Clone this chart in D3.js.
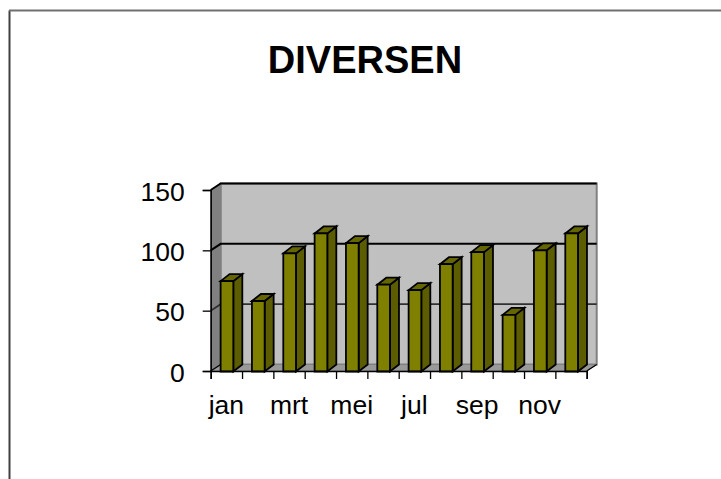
<!DOCTYPE html>
<html>
<head>
<title>DIVERSEN</title>
<meta charset="utf-8">
<style type="text/css">
html, body { margin: 0; padding: 0; background: #fff; overflow: hidden; }
text { font-family: "Liberation Sans", Arial, sans-serif; fill: #000; }
</style>
<script src="https://cdn.jsdelivr.net/npm/d3@7"></script>
</head>
<body>
<script type="text/javascript">
var months = ["jan","feb","mrt","apr","mei","jun","jul","aug","sep","okt","nov","dec"];
var values = [74.5,58,97.5,114,106,71.5,67,88.5,98.5,46.5,100,114];
var yTicks = [0,50,100,150];
var xLabels = ["jan","mrt","mei","jul","sep","nov"];

var width = 721, height = 479;
var x0 = 210.7, x1 = 586.7, y0 = 371, y1 = 190;
var depthX = 10, depthY = 6.5;		// 墙面的透视偏移
var barDX = 9, barDY = 7;

var svg = d3.select("body").append("svg")
	.attr("width", width)
	.attr("height", height);

var x = d3.scaleBand().domain(months).range([x0 + 0.6, x1 + 0.6]).paddingInner(0.595).paddingOuter(0.2975);
var xIndex = d3.scaleLinear().domain([0, 12]).range([x0, x1]);
var xCenter = d3.scaleBand().domain(months).range([x0, x1]);
var y = d3.scaleLinear().domain([0, 150]).range([y0, y1]);

function poly(pts, fill, stroke, sw) {
	return svg.append("polygon")
		.attr("points", pts.map(function(p){ return p.join(","); }).join(" "))
		.attr("fill", fill)
		.attr("stroke", stroke || "none")
		.attr("stroke-width", sw || 0)
		.attr("stroke-linejoin", "miter");
}

// 外框
svg.append("path").attr("d", "M9.5,479V10.5").attr("stroke", "#404040").attr("stroke-width", 2).attr("fill", "none");
svg.append("path").attr("d", "M9,10.5H721").attr("stroke", "#707070").attr("stroke-width", 2).attr("fill", "none");

// 标题
svg.append("text").attr("x", 365).attr("y", 72.5)
	.attr("text-anchor", "middle").attr("font-size", 38).attr("font-weight", "bold")
	.text("DIVERSEN");

// 墙面和地面
poly([[x0+depthX,y1-depthY],[x1+depthX,y1-depthY],[x1+depthX,y0-depthY],[x0+depthX,y0-depthY]], "#c0c0c0", "#808080", 2);
poly([[x0,y1],[x0+depthX,y1-depthY],[x0+depthX,y0-depthY],[x0,y0]], "#808080", "#808080", 1);
poly([[x0,y0],[x0+depthX,y0-depthY],[x1+depthX,y0-depthY],[x1,y0]], "#999999", "#808080", 1);

// 网格线
yTicks.slice(1).forEach(function(t) {
	svg.append("path")
		.attr("d", "M" + x0 + "," + y(t) + "L" + (x0+depthX) + "," + (y(t)-depthY) + "H" + (x1+depthX))
		.attr("fill", "none").attr("stroke", t == 50 ? "#303030" : "#000").attr("stroke-width", t == 50 ? 1.7 : 2);
});
svg.append("path")
	.attr("d", "M" + x0 + "," + y0 + "L" + (x0+depthX) + "," + (y0-depthY))
	.attr("fill", "none").attr("stroke", "#000").attr("stroke-width", 1.3);
svg.append("path")
	.attr("d", "M" + x1 + "," + y0 + "L" + (x1+depthX) + "," + (y0-depthY))
	.attr("fill", "none").attr("stroke", "#000").attr("stroke-width", 1.3);

// 柱子
months.forEach(function(m, i) {
	var l = x(m), r = l + x.bandwidth(), t = y(values[i]), b = y0 + 0.5;
	var sw = 1.8;
	poly([[r,t],[r+barDX,t-barDY],[r+barDX,b-barDY],[r,b]], "#5c5c00", "#000", sw);
	poly([[l,t],[l+barDX,t-barDY],[r+barDX,t-barDY],[r,t]], "#666600", "#000", sw);
	poly([[l,t],[r,t],[r,b],[l,b]], "#808000", "#000", sw);
});

// 坐标轴
var yAxis = svg.append("g").attr("transform", "translate(" + x0 + ",0)")
	.call(d3.axisLeft(y).tickValues(yTicks).tickSize(8).tickPadding(18));
yAxis.selectAll("text").attr("font-size", 26.5).attr("dy", "0.38em");
var xTickAxis = svg.append("g").attr("transform", "translate(0," + y0 + ")")
	.call(d3.axisBottom(xIndex).tickValues(d3.range(0, 13)).tickSize(8).tickFormat(""));
var xAxis = svg.append("g").attr("transform", "translate(0," + y0 + ")")
	.call(d3.axisBottom(xCenter).tickValues(xLabels).tickSize(0).tickPadding(24));
xAxis.selectAll("text").attr("font-size", 26.5);
svg.selectAll(".domain").attr("stroke", "#000").attr("stroke-width", 1.5);
svg.selectAll(".tick line").attr("stroke", "#000").attr("stroke-width", 1.3);
xAxis.select(".domain").remove();
</script>
</body>
</html>
